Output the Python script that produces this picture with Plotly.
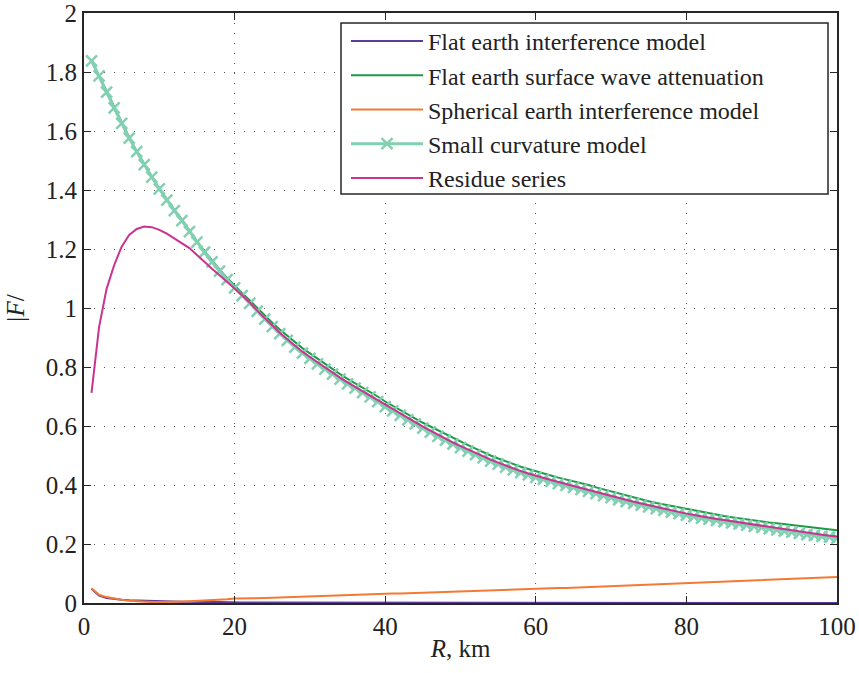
import plotly.graph_objects as go

# Range in km (1 km steps)
r_km = list(range(1, 101))

flat_interference = [
    0.048, 0.025, 0.017, 0.013, 0.011, 0.009, 0.008, 0.007, 0.006, 0.005,
    0.005, 0.004, 0.004, 0.004, 0.003, 0.003, 0.003, 0.003, 0.002, 0.002,
    0.002, 0.002, 0.002, 0.002, 0.002, 0.001, 0.001, 0.001, 0.001, 0.001,
    0.001, 0.001, 0.001, 0.001, 0.001, 0.001, 0.001, 0.001, 0.001, 0.001,
    0.001, 0.001, 0.001, 0.001, 0.001, 0.000, 0.000, 0.000, 0.000, 0.000,
    0.000, 0.000, 0.000, 0.000, 0.000, 0.000, 0.000, 0.000, 0.000, 0.000,
    0.000, 0.000, 0.000, 0.000, 0.000, 0.000, 0.000, 0.000, 0.000, 0.000,
    0.000, 0.000, 0.000, 0.000, 0.000, 0.000, 0.000, 0.000, 0.000, 0.000,
    0.000, 0.000, 0.000, 0.000, 0.000, 0.000, 0.000, 0.000, 0.000, 0.000,
    0.000, 0.000, 0.000, 0.000, 0.000, 0.000, 0.000, 0.000, 0.000, 0.000,
]

flat_surface_wave = [
    1.840, 1.788, 1.733, 1.680, 1.628, 1.578, 1.531, 1.487, 1.445, 1.405,
    1.368, 1.333, 1.300, 1.262, 1.226, 1.193, 1.160, 1.130, 1.102, 1.075,
    1.050, 1.026, 1.000, 0.975, 0.950, 0.927, 0.906, 0.884, 0.864, 0.846,
    0.828, 0.810, 0.793, 0.776, 0.760, 0.745, 0.730, 0.716, 0.700, 0.683,
    0.668, 0.653, 0.639, 0.625, 0.611, 0.598, 0.585, 0.572, 0.559, 0.547,
    0.535, 0.523, 0.511, 0.500, 0.490, 0.480, 0.471, 0.462, 0.454, 0.446,
    0.439, 0.432, 0.425, 0.419, 0.413, 0.407, 0.400, 0.392, 0.385, 0.378,
    0.371, 0.364, 0.357, 0.351, 0.345, 0.339, 0.334, 0.329, 0.324, 0.319,
    0.314, 0.308, 0.303, 0.299, 0.295, 0.291, 0.287, 0.283, 0.280, 0.276,
    0.273, 0.270, 0.267, 0.264, 0.261, 0.258, 0.255, 0.252, 0.250, 0.247,
]

spherical_interference = [
    0.050, 0.028, 0.020, 0.015, 0.011, 0.008, 0.006, 0.004, 0.003, 0.003,
    0.003, 0.004, 0.005, 0.006, 0.007, 0.009, 0.010, 0.012, 0.013, 0.015,
    0.015, 0.016, 0.016, 0.017, 0.018, 0.019, 0.019, 0.020, 0.021, 0.022,
    0.023, 0.023, 0.024, 0.025, 0.026, 0.027, 0.028, 0.029, 0.030, 0.031,
    0.032, 0.032, 0.033, 0.034, 0.035, 0.036, 0.036, 0.037, 0.038, 0.039,
    0.040, 0.041, 0.042, 0.043, 0.044, 0.045, 0.046, 0.047, 0.047, 0.048,
    0.049, 0.050, 0.051, 0.051, 0.052, 0.053, 0.054, 0.055, 0.056, 0.057,
    0.058, 0.059, 0.059, 0.060, 0.061, 0.062, 0.063, 0.064, 0.065, 0.066,
    0.067, 0.068, 0.069, 0.070, 0.071, 0.072, 0.073, 0.074, 0.075, 0.076,
    0.077, 0.078, 0.079, 0.080, 0.081, 0.082, 0.083, 0.085, 0.086, 0.088,
]

small_curvature = [
    1.838, 1.787, 1.732, 1.678, 1.626, 1.576, 1.530, 1.486, 1.444, 1.404,
    1.366, 1.330, 1.296, 1.259, 1.223, 1.189, 1.156, 1.125, 1.096, 1.068,
    1.042, 1.016, 0.989, 0.962, 0.937, 0.913, 0.890, 0.867, 0.847, 0.829,
    0.811, 0.793, 0.776, 0.759, 0.743, 0.728, 0.713, 0.699, 0.683, 0.666,
    0.651, 0.636, 0.621, 0.607, 0.593, 0.579, 0.565, 0.552, 0.539, 0.527,
    0.515, 0.503, 0.492, 0.481, 0.471, 0.461, 0.451, 0.442, 0.434, 0.426,
    0.419, 0.412, 0.405, 0.399, 0.392, 0.385, 0.378, 0.371, 0.364, 0.357,
    0.350, 0.344, 0.338, 0.332, 0.326, 0.320, 0.314, 0.308, 0.303, 0.298,
    0.293, 0.288, 0.284, 0.280, 0.276, 0.272, 0.268, 0.264, 0.260, 0.256,
    0.252, 0.248, 0.244, 0.240, 0.236, 0.232, 0.229, 0.226, 0.223, 0.220,
]

residue_series = [
    0.712, 0.935, 1.065, 1.145, 1.208, 1.248, 1.268, 1.276, 1.274, 1.265,
    1.252, 1.236, 1.222, 1.203, 1.180, 1.155, 1.133, 1.111, 1.090, 1.066,
    1.043, 1.019, 0.991, 0.965, 0.940, 0.916, 0.894, 0.872, 0.852, 0.834,
    0.816, 0.798, 0.781, 0.764, 0.748, 0.733, 0.718, 0.704, 0.688, 0.671,
    0.656, 0.641, 0.626, 0.612, 0.598, 0.584, 0.570, 0.557, 0.544, 0.532,
    0.520, 0.508, 0.497, 0.486, 0.476, 0.466, 0.456, 0.447, 0.439, 0.431,
    0.424, 0.417, 0.410, 0.404, 0.397, 0.390, 0.383, 0.376, 0.369, 0.362,
    0.355, 0.349, 0.343, 0.337, 0.331, 0.325, 0.319, 0.313, 0.308, 0.303,
    0.298, 0.293, 0.289, 0.285, 0.281, 0.277, 0.273, 0.269, 0.265, 0.261,
    0.257, 0.253, 0.249, 0.245, 0.241, 0.237, 0.234, 0.231, 0.228, 0.225,
]

x_ticks = [0, 20, 40, 60, 80, 100]
y_ticks = [0, 0.2, 0.4, 0.6, 0.8, 1, 1.2, 1.4, 1.6, 1.8, 2]

FONT = "'Liberation Serif', 'Times New Roman', Times, serif"
TEXT_COLOR = "#222222"
AXIS_COLOR = "#262626"

W, H = 859, 673
MARGIN = dict(l=84, r=22, t=13, b=70)
PLOT_W = W - MARGIN["l"] - MARGIN["r"]
PLOT_H = H - MARGIN["t"] - MARGIN["b"]


def paper_x(px):
    return (px - MARGIN["l"]) / PLOT_W


def paper_y(py):
    return (H - MARGIN["b"] - py) / PLOT_H


fig = go.Figure()

fig.add_trace(go.Scatter(
    x=r_km, y=flat_interference, mode="lines",
    name="Flat earth interference model",
    line=dict(color="#5e3c99", width=2),
))
fig.add_trace(go.Scatter(
    x=r_km, y=flat_surface_wave, mode="lines",
    name="Flat earth surface wave attenuation",
    line=dict(color="#1f9a45", width=2),
))
fig.add_trace(go.Scatter(
    x=r_km, y=spherical_interference, mode="lines",
    name="Spherical earth interference model",
    line=dict(color="#f47a34", width=2),
))
fig.add_trace(go.Scatter(
    x=r_km, y=small_curvature, mode="lines+markers",
    name="Small curvature model",
    line=dict(color="#82d0b2", width=3),
    marker=dict(symbol="x-thin", size=11, color="#82d0b2",
                line=dict(color="#82d0b2", width=2.5)),
))
fig.add_trace(go.Scatter(
    x=r_km, y=residue_series, mode="lines",
    name="Residue series",
    line=dict(color="#c8348f", width=2),
))

axis_common = dict(
    showline=True, linecolor=AXIS_COLOR, linewidth=2, mirror="allticks",
    ticks="inside", ticklen=7, tickcolor=AXIS_COLOR, tickwidth=1,
    showgrid=True, gridcolor="#555555", gridwidth=1, griddash="1px,9px",
    zeroline=False, ticklabeloverflow="allow", automargin=False,
    tickfont=dict(family=FONT, size=25, color=TEXT_COLOR),
)

fig.update_xaxes(
    range=[0, 100], tickvals=x_ticks, ticktext=[str(v) for v in x_ticks],
    title=dict(text="<i>R</i>, km", font=dict(family=FONT, size=25, color=TEXT_COLOR),
               standoff=0),
    **axis_common,
)
fig.update_yaxes(
    range=[0, 2], tickvals=y_ticks, ticktext=[f"{v:g}" for v in y_ticks],
    title=dict(text="|<i>F</i>/", font=dict(family=FONT, size=25, color=TEXT_COLOR),
               standoff=14),
    **axis_common,
)

# Legend frame, drawn as a white box so the legend keeps a fixed outline
fig.add_shape(
    type="rect", xref="paper", yref="paper", layer="above",
    x0=paper_x(341), x1=paper_x(828), y0=paper_y(194), y1=paper_y(23),
    fillcolor="white", line=dict(color=AXIS_COLOR, width=1.5),
)

fig.update_layout(
    width=W, height=H,
    margin=MARGIN,
    plot_bgcolor="white", paper_bgcolor="white",
    font=dict(family=FONT, color=TEXT_COLOR),
    legend=dict(
        x=paper_x(346), y=paper_y(19), xanchor="left", yanchor="top",
        bgcolor="rgba(0,0,0,0)", borderwidth=0,
        font=dict(family=FONT, size=24, color=TEXT_COLOR),
        itemwidth=72, tracegroupgap=0,
    ),
    showlegend=True,
)

fig.write_html("out.html")
